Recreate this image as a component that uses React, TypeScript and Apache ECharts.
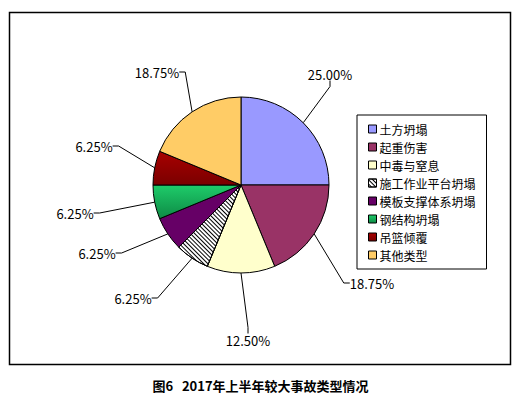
import React, { useEffect, useRef } from "react";
import * as echarts from "echarts";

const categories = ["土方坍塌", "起重伤害", "中毒与窒息", "施工作业平台坍塌", "模板支撑体系坍塌", "钢结构坍塌", "吊篮倾覆", "其他类型"];
const shares = [25.0, 18.75, 12.5, 6.25, 6.25, 6.25, 6.25, 18.75];
const colors = ["#9999FF", "#993366", "#FFFFCC", "#FFFFFF", "#660066", "#17B85C", "#A00000", "#FFCC66"];
const chartTitle = "图6   2017年上半年较大事故类型情况";
// label centres (layout only, as in the reference)
const labelSpots = [[330, 74], [372, 283], [248, 340], [133, 298], [97, 253], [75, 213], [94, 146], [157, 72]];

const FONT = "'Noto Sans CJK SC', 'DejaVu Sans', sans-serif";

export default function App() {
  const ref = useRef<HTMLDivElement>(null);
  useEffect(() => {
    document.body.style.margin = "0";
    const chart = echarts.init(ref.current!, null, { renderer: "svg" });
    const data = categories.map((name, i) => {
      const item: any = {
        name,
        value: shares[i],
        itemStyle: { color: colors[i] },
      };
      if (i === 3) {
        item.itemStyle.decal = {
          symbol: "rect",
          symbolSize: 1,
          color: "#000",
          backgroundColor: "#fff",
          dashArrayX: [1, 0],
          dashArrayY: [1, 2],
          rotation: Math.PI / 4,
        };
      }
      if (i === 5) {
        item.itemStyle.color = new echarts.graphic.LinearGradient(0, 0, 0, 1, [
          { offset: 0, color: "#1ECC6A" },
          { offset: 1, color: "#0E8A45" },
        ]);
      }
      if (i === 6) {
        item.itemStyle.color = new echarts.graphic.LinearGradient(0, 0, 0, 1, [
          { offset: 0, color: "#A80000" },
          { offset: 1, color: "#7A0000" },
        ]);
      }
      return item;
    });
    chart.setOption({
      animation: false,
      backgroundColor: "#fff",
      title: {
        text: chartTitle,
        left: "center",
        top: 374,
        textStyle: { fontFamily: FONT, fontSize: 13, fontWeight: "bold", color: "#000" },
      },
      graphic: [
        {
          type: "rect",
          shape: { x: 9.5, y: 12.5, width: 501, height: 352 },
          style: { fill: "none", stroke: "#000", lineWidth: 1.5 },
          silent: true,
        },
      ],
      legend: {
        orient: "vertical",
        left: 357,
        top: 115,
        padding: [8, 11, 8, 11],
        itemGap: 6,
        itemWidth: 8,
        itemHeight: 8,
        icon: "rect",
        backgroundColor: "#fff",
        borderColor: "#000",
        borderWidth: 1,
        borderRadius: 0,
        itemStyle: { borderColor: "#000", borderWidth: 1 },
        textStyle: { fontFamily: FONT, fontSize: 12, color: "#000", padding: [0, 0, 0, -2] },
        data: categories,
      },
      series: [
        {
          type: "pie",
          center: [241, 185],
          radius: [0, 88],
          startAngle: 90,
          clockwise: true,
          avoidLabelOverlap: false,
          itemStyle: { borderColor: "#000", borderWidth: 1 },
          label: {
            show: true,
            position: "outside",
            formatter: (p: any) => p.value.toFixed(2) + "%",
            fontFamily: FONT,
            fontSize: 13,
            color: "#000",
          },
          labelLine: { show: true, length: 30, length2: 6, lineStyle: { color: "#000", width: 1 } },
          labelLayout: (p: any) => {
            const s = labelSpots[p.dataIndex];
            return { x: s[0], y: s[1], align: "center", verticalAlign: "middle" };
          },
          emphasis: { disabled: true },
          data,
        },
      ],
    });
    return () => chart.dispose();
  }, []);
  return <div ref={ref} style={{ width: 521, height: 397 }} />;
}
